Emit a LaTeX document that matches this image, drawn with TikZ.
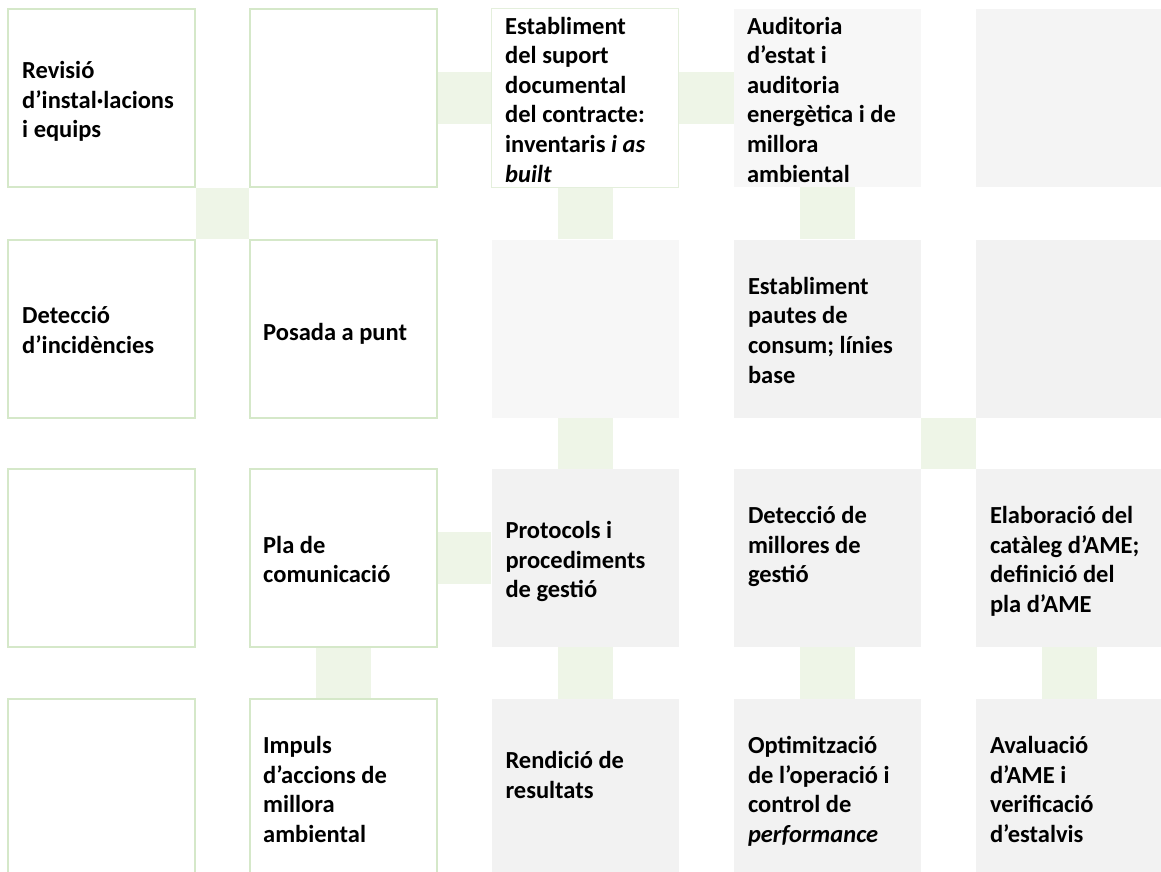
\documentclass[tikz,border=0pt]{standalone}
\usepackage{fontspec}
\setmainfont{Carlito}
\usetikzlibrary{calc,backgrounds}
\definecolor{bordergreen}{HTML}{D5E8C9}
\definecolor{conngreen}{HTML}{EEF5E7}
\definecolor{boxgray}{HTML}{F2F2F2}
\definecolor{boxlight}{HTML}{F7F7F7}
\definecolor{boxmid}{HTML}{F4F4F4}
\definecolor{faintgreen}{HTML}{E4EFDC}
\begin{document}
\begin{tikzpicture}[x=1pt,y=1pt,
  cell/.style={rectangle, minimum width=187pt, minimum height=178pt, inner sep=0pt},
  greenbox/.style={cell, fill=white, draw=bordergreen, line width=2pt},
  faintbox/.style={cell, fill=white, draw=faintgreen, line width=1pt},
  graybox/.style={cell, fill=boxgray},
  lightbox/.style={cell, fill=boxlight},
  midbox/.style={cell, fill=boxmid},
  conn/.style={fill=conngreen},
  txt/.style={anchor=west, align=left, inner sep=0pt, yshift=-6pt,
    font=\fontsize{24.5pt}{29.6pt}\selectfont\bfseries,
    execute at begin node=\strut, execute at end node=\strut}
]
\useasboundingbox (0,0) rectangle (1161,-872);
\begin{pgfonlayer}{background}
\fill[white] (0,0) rectangle (1161,-872);
\end{pgfonlayer}

% boxes
\node[greenbox] (b11) at (101.5,-98) {};
\node[greenbox] (b12) at (343.5,-98) {};
\node[faintbox] (b13) at (585,-98) {};
\node[lightbox] (b14) at (827.5,-98) {};
\node[midbox]   (b15) at (1069.5,-98) {};

\node[greenbox] (b21) at (101.5,-328.5) {};
\node[greenbox] (b22) at (343.5,-328.5) {};
\node[lightbox] (b23) at (585,-328.5) {};
\node[graybox]  (b24) at (827.5,-328.5) {};
\node[graybox]  (b25) at (1069.5,-328.5) {};

\node[greenbox] (b31) at (101.5,-558) {};
\node[greenbox] (b32) at (343.5,-558) {};
\node[graybox]  (b33) at (585,-558) {};
\node[graybox]  (b34) at (827.5,-558) {};
\node[graybox]  (b35) at (1069.5,-558) {};

\node[greenbox] (b41) at (101.5,-788) {};
\node[greenbox] (b42) at (343.5,-788) {};
\node[graybox]  (b43) at (585,-788) {};
\node[graybox]  (b44) at (827.5,-788) {};
\node[graybox]  (b45) at (1069.5,-788) {};

% texts
\node[txt] (t11) at ($(b11.west)+(15,0)$) {Revisió\\d’instal·lacions\\i equips};
\node[txt] (t13) at ($(b13.west)+(14,0)$) {Establiment\\del suport\\documental\\del contracte:\\inventaris \textit{i as}\\\textit{built}};
\node[txt] (t14) at ($(b14.west)+(13,0)$) {Auditoria\\d’estat i\\auditoria\\energètica i de\\millora\\ambiental};
\node[txt] (t21) at ($(b21.west)+(15,0)$) {Detecció\\d’incidències};
\node[txt] (t22) at ($(b22.west)+(14,0)$) {Posada a punt};
\node[txt] (t24) at ($(b24.west)+(14,0)$) {Establiment\\pautes de\\consum; línies\\base};
\node[txt] (t32) at ($(b32.west)+(14,0)$) {Pla de\\comunicació};
\node[txt] (t33) at ($(b33.west)+(14,0)$) {Protocols i\\procediments\\de gestió};
\node[txt] (t34) at ($(b34.west)+(14,0)$) {Detecció de\\millores de\\gestió\\};
\node[txt] (t35) at ($(b35.west)+(14,0)$) {Elaboració del\\catàleg d’AME;\\definició del\\pla d’AME};
\node[txt] (t42) at ($(b42.west)+(14,0)$) {Impuls\\d’accions de\\millora\\ambiental};
\node[txt] (t43) at ($(b43.west)+(14,0)$) {Rendició de\\resultats\\};
\node[txt] (t44) at ($(b44.west)+(14,0)$) {Optimització\\de l’operació i\\control de\\\textit{performance}};
\node[txt] (t45) at ($(b45.west)+(14,0)$) {Avaluació\\d’AME i\\verificació\\d’estalvis};

% connectors
\begin{pgfonlayer}{background}
\fill[conn] ($(b12.east)+(0,26)$) rectangle ($(b13.west)+(0,-26)$);
\fill[conn] ($(b13.east)+(0,26)$) rectangle ($(b14.west)+(0,-26)$);
\fill[conn] (b11.south east) rectangle (b22.north west);
\fill[conn] ($(b13.south)+(-27.5,0)$) rectangle ($(b23.north)+(27.5,0)$);
\fill[conn] ($(b14.south)+(-27.5,0)$) rectangle ($(b24.north)+(27.5,0)$);
\fill[conn] ($(b23.south)+(-27.5,0)$) rectangle ($(b33.north)+(27.5,0)$);
\fill[conn] (b24.south east) rectangle (b35.north west);
\fill[conn] ($(b32.east)+(0,26)$) rectangle ($(b33.west)+(0,-26)$);
\fill[conn] ($(b32.south)+(-27.5,0)$) rectangle ($(b42.north)+(27.5,0)$);
\fill[conn] ($(b33.south)+(-27.5,0)$) rectangle ($(b43.north)+(27.5,0)$);
\fill[conn] ($(b34.south)+(-27.5,0)$) rectangle ($(b44.north)+(27.5,0)$);
\fill[conn] ($(b35.south)+(-27.5,0)$) rectangle ($(b45.north)+(27.5,0)$);
\end{pgfonlayer}
\end{tikzpicture}
\end{document}
